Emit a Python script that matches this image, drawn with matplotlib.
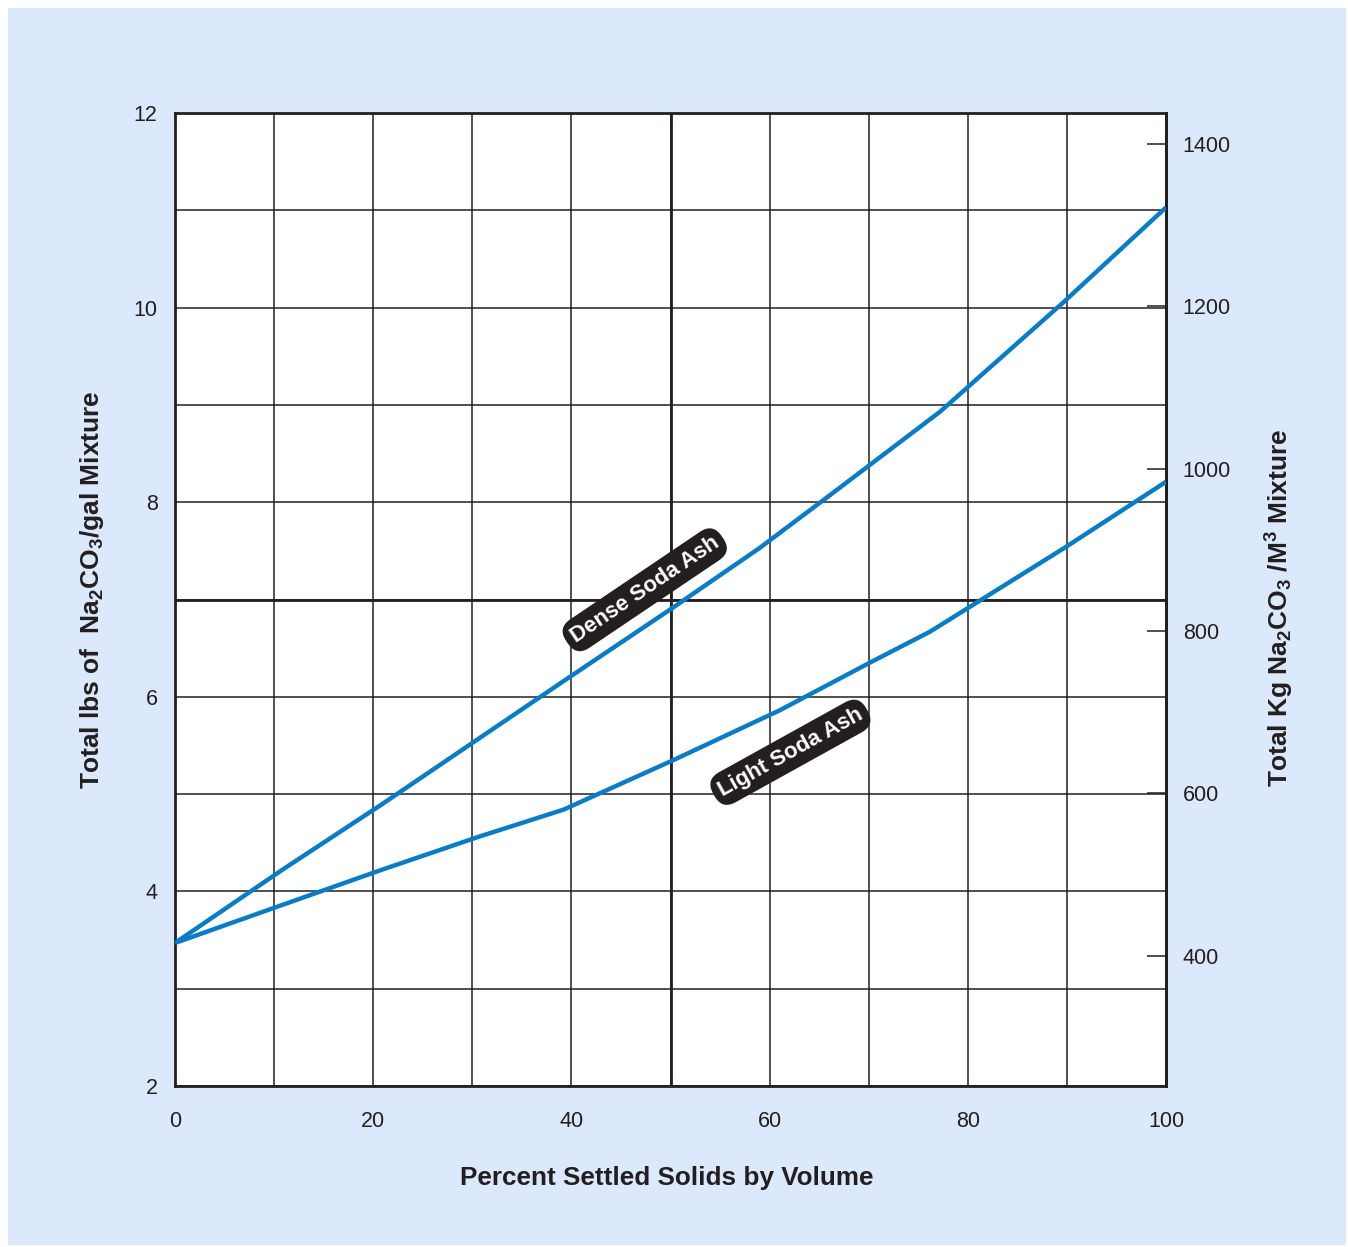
import numpy as np
import matplotlib.pyplot as plt
from matplotlib.patches import Rectangle

plt.rcParams['font.family'] = ['Liberation Sans', 'DejaVu Sans']
plt.rcParams['mathtext.fontset'] = 'custom'
plt.rcParams['mathtext.rm'] = 'Liberation Sans'
plt.rcParams['mathtext.bf'] = 'Liberation Sans:bold'

# 数据 (lbs/gal vs percent settled solids)
dense_x = [0, 10.8, 20.8, 38.9, 50.3, 59, 65.8, 77.2, 89.6, 100]
dense_y = [3.47, 4.22, 4.89, 6.14, 6.92, 7.53, 8.05, 8.93, 10.05, 11.03]
light_x = [0, 10.8, 20.8, 30.6, 39.2, 50.3, 61, 70.1, 76.2, 89.9, 100]
light_y = [3.47, 3.86, 4.22, 4.56, 4.84, 5.35, 5.86, 6.35, 6.67, 7.54, 8.21]
kg_ticks = [400, 600, 800, 1000, 1200, 1400]
LB_TO_KG = 119.83

bg = '#dce8fc'
ink = '#231f20'
blue = '#0a7cc4'

fig = plt.figure(figsize=(13.48, 12.47), dpi=100)
fig.patch.set_facecolor('white')
fig.patches.append(Rectangle((8 / 1348, 2 / 1247), 1338 / 1348, 1237 / 1247,
                             transform=fig.transFigure, facecolor=bg, edgecolor='none', zorder=-10))

ax = fig.add_axes([175 / 1348, 1 - 1086 / 1247, 991 / 1348, 973 / 1247])
ax.set_facecolor('white')
ax.set_xlim(0, 100)
ax.set_ylim(2, 12)
ax.set_xticks(np.arange(0, 101, 20))
ax.set_xticks(np.arange(0, 101, 10), minor=True)
ax.set_yticks(np.arange(2, 13, 2))
ax.set_yticks(np.arange(2, 13, 1), minor=True)
ax.grid(True, which='both', color=ink, lw=1.1)
ax.axvline(50, color=ink, lw=2.0)
ax.axhline(7, color=ink, lw=2.0)
ax.set_axisbelow(True)
ax.tick_params(which='both', length=0)
ax.tick_params(axis='y', pad=12.5, labelsize=15.5, labelcolor=ink)
ax.tick_params(axis='x', pad=18, labelsize=15.5, labelcolor=ink)
for s in ax.spines.values():
    s.set_linewidth(2.0)
    s.set_color(ink)

ax.plot(dense_x, dense_y, color=blue, lw=3.2, solid_capstyle='butt', zorder=3)
ax.plot(light_x, light_y, color=blue, lw=3.2, solid_capstyle='butt', zorder=3)

box = dict(boxstyle='round,pad=0.3,rounding_size=0.7', facecolor=ink, edgecolor='none')
ax.text(47.4, 7.1, 'Dense Soda Ash', rotation=34, ha='center', va='center', color='white',
        fontsize=16, fontweight='bold', bbox=box, zorder=4, rotation_mode='anchor')
ax.text(62.1, 5.43, 'Light Soda Ash', rotation=29, ha='center', va='center', color='white',
        fontsize=16, fontweight='bold', bbox=box, zorder=4, rotation_mode='anchor')

sec = ax.secondary_yaxis('right', functions=(lambda v: v * LB_TO_KG, lambda v: v / LB_TO_KG))
sec.set_yticks(kg_ticks)
sec.tick_params(direction='in', length=14, width=1.1, color=ink, pad=12, labelsize=15.5, labelcolor=ink)
sec.spines['right'].set_linewidth(2.0)

fig.text(92 / 1348, 1 - 590 / 1247, r'Total lbs of  $\mathbf{Na_2CO_3}$/gal Mixture', rotation=90,
         ha='center', va='center', fontsize=19, fontweight='bold', color=ink)
fig.text(1280 / 1348, 1 - 608 / 1247, r'Total Kg $\mathbf{Na_2CO_3}$ /$\mathbf{M^3}$ Mixture', rotation=90,
         ha='center', va='center', fontsize=19, fontweight='bold', color=ink)
fig.text(667 / 1348, 1 - 1178 / 1247, 'Percent Settled Solids by Volume',
         ha='center', va='center', fontsize=18.8, fontweight='bold', color=ink)

fig.savefig('out.png', dpi=100, facecolor=fig.get_facecolor())
